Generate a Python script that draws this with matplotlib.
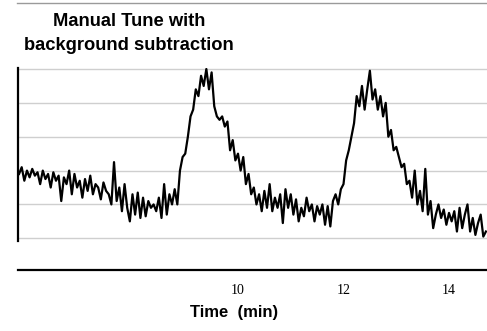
"""
Chromatogram trace: manual tune with background subtraction.
"""

import numpy as np
import matplotlib.pyplot as plt
from matplotlib.lines import Line2D

# Sample times (min), one reading every 0.05 min
t_start = 5.85
t_step = 0.05

# Detector signal, in gridline units (0 = bottom gridline)
baseline_early = [1.9, 2.1, 1.7, 2.0, 1.8, 2.05, 1.85, 1.95, 1.6, 2.0,
                  1.75, 1.9, 1.5, 1.95, 1.7, 1.85, 1.1, 1.8, 1.6, 2.0,
                  1.3, 1.9, 1.5, 1.7, 1.2, 1.75, 1.4, 1.85, 1.3, 1.6,
                  1.5, 1.15, 1.65, 1.4]
baseline_mid = [1.3, 1.0, 2.25, 1.1, 1.5, 0.8, 1.6, 0.9, 0.5, 1.3,
                0.7, 1.35, 0.6, 1.2, 0.65, 1.1, 0.9, 1.0, 0.8, 1.2,
                0.6, 1.6, 0.7, 1.3, 1.0, 1.45, 1.0, 2.0, 2.4, 2.5]
peak_one = [3.0, 3.6, 3.8, 4.4, 4.2, 4.8, 4.5, 5.0, 4.4, 4.9,
            3.9, 3.6, 3.5, 3.6, 3.3, 3.45, 2.6, 2.9, 2.3, 2.5,
            2.0, 2.4, 1.6, 1.9, 1.3, 1.5, 1.0]
valley = [1.3, 0.8, 1.4, 0.9, 1.6, 0.8, 1.2, 0.9, 1.3, 0.45,
          1.45, 0.9, 1.3, 0.7, 1.15, 0.5, 0.9, 0.65, 1.2, 0.8,
          1.0, 0.5, 0.95, 0.7, 1.0, 0.4, 0.95, 0.35]
peak_two = [1.1, 1.3, 1.0, 1.45, 1.6, 2.3, 2.6, 3.0, 3.4, 4.2,
            3.9, 4.5, 3.8, 4.4, 4.95, 4.1, 4.4, 3.8, 4.2, 3.6,
            4.0, 3.0, 3.2, 2.6, 2.7]
tail = [2.4, 2.1, 2.2, 1.6, 1.7, 1.2, 2.0, 1.0, 1.4, 0.8,
        2.05, 0.7, 1.1, 0.3, 0.7, 1.0, 0.6, 0.85, 0.4, 0.75,
        0.5, 0.8, 0.2, 0.9, 0.3, 0.7, 1.0, 0.2, 0.6, 0.1,
        0.45, 0.7, 0.05, 0.2]

tick_values = [10, 12, 14]
tick_labels = ['10', '12', '14']
grid_levels = [0, 1, 2, 3, 4, 5]

signal = np.array(baseline_early + baseline_mid + peak_one + valley + peak_two + tail)
time = t_start + t_step * np.arange(len(signal))

fig = plt.figure(figsize=(4.87, 3.31), dpi=100)
ax = fig.add_axes([18 / 487, 1 - 241 / 331, 469 / 487, 173 / 331])

for level in grid_levels:
    ax.axhline(level, color='#cfcfcf', linewidth=1.0, zorder=0)

ax.plot(time, signal, color='black', linewidth=1.6, zorder=2)

ax.set_xlim(5.83, 14.72)
ax.set_ylim(-0.08, 5.03)

ax.spines['top'].set_visible(False)
ax.spines['right'].set_visible(False)
ax.spines['left'].set_linewidth(1.6)
ax.spines['bottom'].set_linewidth(1.6)
ax.spines['bottom'].set_position(('outward', 21))

ax.set_yticks([])
ax.set_xticks(tick_values)
ax.set_xticklabels(tick_labels, family='Liberation Serif', fontsize=10)
ax.tick_params(axis='x', length=0, pad=10)

# Axis title placed in figure pixels
fig.text(234 / 487, 1 - 312 / 331, 'Time  (min)', ha='center', va='center',
         family='Liberation Sans', fontweight='bold', fontsize=12)

# Grey rule along the top of the figure
fig.add_artist(Line2D([17 / 487, 1.0], [1 - 3 / 331, 1 - 3 / 331],
                      color='#9a9a9a', linewidth=1.0))

fig.text(129 / 487, 1 - 22 / 331, 'Manual Tune with', ha='center', va='center',
         family='Liberation Sans', fontweight='bold', fontsize=13.2)
fig.text(129 / 487, 1 - 46 / 331, 'background subtraction', ha='center', va='center',
         family='Liberation Sans', fontweight='bold', fontsize=13.2)

fig.savefig('out.png', dpi=100)
